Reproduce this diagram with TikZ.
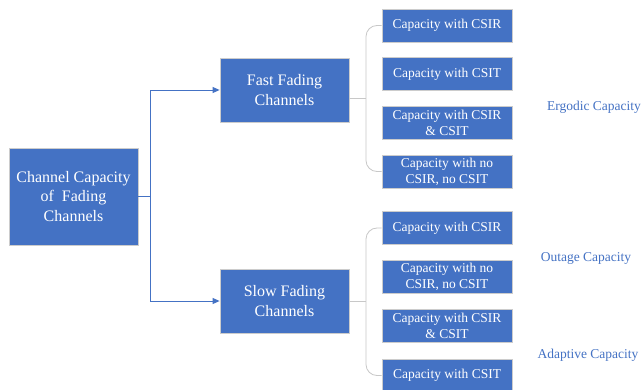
\documentclass[tikz,border=0pt]{standalone}
\usepackage{fontspec}
\setmainfont{Liberation Serif}
\usetikzlibrary{arrows.meta}
\definecolor{boxblue}{HTML}{4472C4}
\definecolor{brk}{HTML}{C8C8C8}
\begin{document}
\begin{tikzpicture}[x=1pt,y=-1pt,
  box/.style={fill=boxblue,draw=black!20,line width=0.8pt,text=white,align=center,inner sep=0pt},
  bigbox/.style={box,minimum width=129pt,minimum height=64pt,font=\fontsize{16}{19.5}\selectfont},
  mainbox/.style={box,minimum width=129pt,minimum height=97pt,font=\fontsize{16}{19.5}\selectfont},
  leaf/.style={box,minimum width=130pt,minimum height=33pt,font=\fontsize{13.5}{16}\selectfont},
  arr/.style={draw=boxblue,line width=0.9pt,-{Triangle[length=7pt,width=6pt]}},
  bracket/.style={draw=brk,line width=0.8pt,rounded corners=11pt},
  lab/.style={text=boxblue,font=\fontsize{13.5}{16}\selectfont,inner sep=0pt}]
\clip (0,0) rectangle (642,390);
\fill[white] (0,0) rectangle (642,390);
\node[mainbox] (main) at (73.5,196.5) {Channel Capacity\\of\ \ Fading\\Channels};
\node[bigbox] (fast) at (284.5,90) {Fast Fading\\Channels};
\node[bigbox] (slow) at (284.5,301) {Slow Fading\\Channels};
\node[leaf] (l1) at (447,25.5) {Capacity with CSIR};
\node[leaf] (l2) at (447,74) {Capacity with CSIT};
\node[leaf] (l3) at (447,123) {Capacity with CSIR\\\& CSIT};
\node[leaf] (l4) at (447,171.5) {Capacity with no\\CSIR, no CSIT};
\node[leaf] (l5) at (447,228) {Capacity with CSIR};
\node[leaf] (l6) at (447,276.5) {Capacity with no\\CSIR, no CSIT};
\node[leaf] (l7) at (447,325.5) {Capacity with CSIR\\\& CSIT};
\node[leaf] (l8) at (447,375.5) {Capacity with CSIT};
\node[lab] (erg) at (594,107) {Ergodic Capacity};
\node[lab] (out) at (586,258) {Outage Capacity};
\node[lab] (ada) at (588,355) {Adaptive Capacity};
\coordinate (sp) at (150,196.5);
\draw[arr] (main.east) -- (sp) |- (fast.west);
\draw[arr] (main.east) -- (sp) |- (slow.west);
\coordinate (fm) at (366,98);
\coordinate (sm) at (366,301);
\draw[bracket] (l1.west) -| (fm) |- (l4.west);
\draw[draw=brk,line width=0.8pt] (fast.east |- fm) -- (fm);
\draw[bracket] (l5.west) -| (sm) |- (l8.west);
\draw[draw=brk,line width=0.8pt] (slow.east |- sm) -- (sm);
\end{tikzpicture}
\end{document}
